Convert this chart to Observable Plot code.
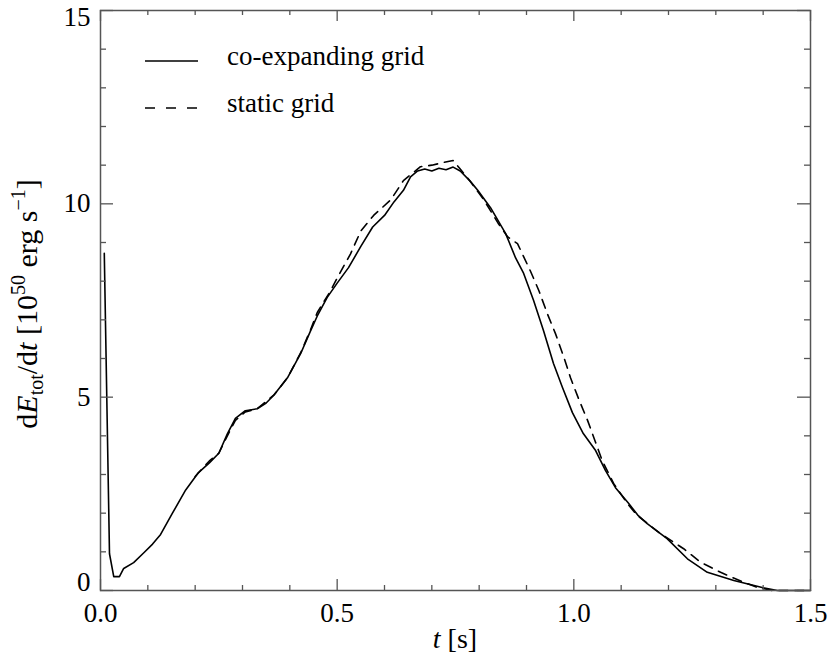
<!DOCTYPE html>
<html><head><meta charset="utf-8">
<script src="https://cdn.jsdelivr.net/npm/d3@7"></script>
<script src="https://cdn.jsdelivr.net/npm/@observablehq/plot@0.6"></script>
<style>
body{margin:0;background:#fff}
#chart svg, #chart svg text, #chart svg tspan{font-family:'Liberation Serif','Times New Roman',serif !important}
</style>
</head><body><div id="chart"></div>
<script>
// co-expanding grid (solid)
const coT = [0.008,0.019,0.028,0.04,0.049,0.07,0.091,0.11,0.127,0.152,0.18,0.207,0.23,0.25,0.268,0.285,0.306,0.331,0.35,0.366,0.395,0.423,0.444,0.458,0.479,0.5,0.524,0.55,0.575,0.6,0.62,0.64,0.655,0.67,0.685,0.7,0.715,0.73,0.745,0.76,0.78,0.797,0.824,0.856,0.877,0.894,0.915,0.936,0.957,0.976,0.997,1.02,1.046,1.067,1.088,1.116,1.135,1.155,1.197,1.24,1.282,1.338,1.4,1.43,1.5];
const coV = [8.72,0.95,0.36,0.36,0.57,0.72,0.97,1.2,1.45,2.0,2.6,3.05,3.3,3.55,4.05,4.45,4.65,4.7,4.85,5.05,5.5,6.13,6.72,7.1,7.58,7.95,8.35,8.9,9.4,9.7,10.05,10.35,10.7,10.85,10.9,10.85,10.92,10.88,10.95,10.85,10.6,10.35,9.9,9.23,8.6,8.2,7.5,6.72,5.87,5.25,4.6,4.06,3.62,3.1,2.66,2.25,1.95,1.73,1.34,0.82,0.47,0.26,0.07,0.0,0.0];
// static grid (dashed)
const stT = [0.2,0.23,0.25,0.268,0.285,0.306,0.331,0.366,0.395,0.423,0.444,0.458,0.486,0.503,0.528,0.55,0.577,0.613,0.64,0.676,0.7,0.725,0.745,0.76,0.78,0.81,0.84,0.86,0.881,0.908,0.926,0.944,0.961,0.979,0.993,1.01,1.029,1.046,1.06,1.084,1.113,1.134,1.183,1.232,1.268,1.31,1.359,1.388,1.42,1.5];
const stV = [2.95,3.35,3.55,4.0,4.4,4.62,4.7,5.05,5.5,6.15,6.75,7.19,7.75,8.15,8.7,9.3,9.7,10.1,10.6,10.96,11.0,11.07,11.12,10.9,10.6,10.1,9.5,9.15,8.97,8.27,7.76,7.16,6.65,6.03,5.5,4.96,4.4,3.83,3.36,2.77,2.25,1.94,1.47,1.08,0.73,0.47,0.21,0.08,0.0,0.0];

const xMajor = [0, 0.5, 1.0, 1.5];
const xTickLabels = ["0.0", "0.5", "1.0", "1.5"];
const xMinor = [0.1,0.2,0.3,0.4,0.6,0.7,0.8,0.9,1.1,1.2,1.3,1.4];
const yMajor = [0, 5, 10, 15];
const yTickLabels = ["0", "5", "10", "15"];
const yMinor = [1,2,3,4,6,7,8,9,11,12,13,14];
const legendLabels = ["co-expanding grid", "static grid"];
const legendDash = [null, "10,11"];
const curveDash = "9,7";

const W = 830, H = 662, mL = 100, mR = 20, mT = 10, mB = 72;
const fw = W - mL - mR, fh = H - mT - mB;
const axisColor = "#555";
const fs = 27;
const serif = "'Liberation Serif','Times New Roman',serif";

const co = coT.map((t, i) => ({t, v: coV[i]}));
const st = stT.map((t, i) => ({t, v: stV[i]}));
const xl = d => xTickLabels[xMajor.indexOf(d)];
const yl = d => yTickLabels[yMajor.indexOf(d)];
const axText = {tickSize: 0, fontSize: fs, fontFamily: serif, fontVariant: "normal", label: null, fill: "#000"};

const chart = Plot.plot({
  width: W, height: H,
  marginLeft: mL, marginRight: mR, marginTop: mT, marginBottom: mB,
  style: {fontFamily: serif, background: "#fff", color: "#000"},
  x: {domain: [0, 1.5]},
  y: {domain: [0, 15]},
  marks: [
    Plot.line(co, {x: "t", y: "v", stroke: "#000", strokeWidth: 1.6}),
    Plot.line(st, {x: "t", y: "v", stroke: "#000", strokeWidth: 1.6, strokeDasharray: curveDash}),
    // inward ticks, mirrored on all sides
    Plot.tickX(xMajor, {x: d => d, stroke: axisColor, strokeWidth: 1.3, insetTop: fh - 11}),
    Plot.tickX(xMajor, {x: d => d, stroke: axisColor, strokeWidth: 1.3, insetBottom: fh - 11}),
    Plot.tickX(xMinor, {x: d => d, stroke: axisColor, strokeWidth: 1.3, insetTop: fh - 5}),
    Plot.tickX(xMinor, {x: d => d, stroke: axisColor, strokeWidth: 1.3, insetBottom: fh - 5}),
    Plot.tickY(yMajor, {y: d => d, stroke: axisColor, strokeWidth: 1.3, insetRight: fw - 13}),
    Plot.tickY(yMajor, {y: d => d, stroke: axisColor, strokeWidth: 1.3, insetLeft: fw - 13}),
    Plot.tickY(yMinor, {y: d => d, stroke: axisColor, strokeWidth: 1.3, insetRight: fw - 6}),
    Plot.tickY(yMinor, {y: d => d, stroke: axisColor, strokeWidth: 1.3, insetLeft: fw - 6}),
    Plot.frame({stroke: axisColor, strokeWidth: 1.5}),
    Plot.axisX(xMajor, {...axText, tickPadding: 12, tickFormat: xl}),
    Plot.axisY(yMajor.filter(d => d > 0 && d < 15), {...axText, tickPadding: 10, tickFormat: yl}),
    Plot.axisY(yMajor.filter(d => d === 0), {...axText, tickPadding: 10, tickFormat: yl, dy: -8}),
    Plot.axisY(yMajor.filter(d => d === 15), {...axText, tickPadding: 10, tickFormat: yl, dy: 7})
  ]
});

const svg = d3.select(chart);

// x axis title: t [s]
const xt = svg.append("text").attr("x", mL + fw / 2).attr("y", 648)
  .attr("text-anchor", "middle").attr("font-family", serif).attr("font-size", 28).attr("fill", "#000");
xt.append("tspan").attr("font-style", "italic").text("t");
xt.append("tspan").text(" [s]");

// y axis title: dE_tot/dt [10^50 erg s^-1]
const yt = svg.append("text").attr("transform", `translate(37,${mT + fh / 2 + 4}) rotate(-90)`)
  .attr("text-anchor", "middle").attr("font-family", serif).attr("font-size", 30).attr("fill", "#000");
yt.append("tspan").text("d");
yt.append("tspan").attr("font-style", "italic").text("E");
yt.append("tspan").attr("font-size", 20).attr("dy", 6).text("tot");
yt.append("tspan").attr("dy", -6).text("/d");
yt.append("tspan").attr("font-style", "italic").text("t");
yt.append("tspan").text(" [10");
yt.append("tspan").attr("font-size", 20).attr("dy", -12).text("50");
yt.append("tspan").attr("dy", 12).text(" erg s");
yt.append("tspan").attr("font-size", 20).attr("dy", -12).text("\u22121");
yt.append("tspan").attr("dy", 12).text("]");

// legend
const lg = svg.append("g");
legendLabels.forEach((lab, i) => {
  const y = 61 + i * 47;
  const l = lg.append("line").attr("x1", 145).attr("x2", 198).attr("y1", y).attr("y2", y)
    .attr("stroke", "#000").attr("stroke-width", 1.6);
  if (legendDash[i]) l.attr("stroke-dasharray", legendDash[i]);
  lg.append("text").attr("x", 227).attr("y", y + 4).attr("text-anchor", "start")
    .attr("font-family", serif).attr("font-size", 27).attr("fill", "#000").text(lab);
});

document.getElementById("chart").appendChild(chart);
</script>
</body></html>
